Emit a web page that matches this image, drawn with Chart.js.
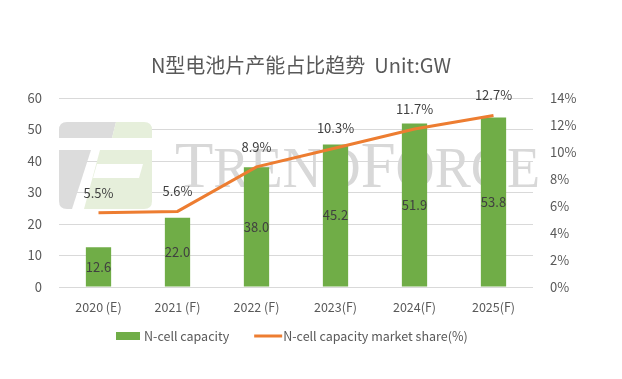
<!DOCTYPE html>
<html>
<head>
<meta charset="utf-8">
<script src="https://cdn.jsdelivr.net/npm/chart.js@4/dist/chart.umd.min.js"></script>
<style>
  html, body { margin: 0; padding: 0; background: #ffffff; }
  #wrap { width: 622px; height: 379px; }
</style>
</head>
<body>
<div id="wrap"><canvas id="c" width="622" height="379"></canvas></div>
<script>
const categories = ["2020 (E)", "2021 (F)", "2022 (F)", "2023(F)", "2024(F)", "2025(F)"];
const capacityGW = [12.6, 22.0, 38.0, 45.2, 51.9, 53.8];
const marketSharePct = [5.5, 5.6, 8.9, 10.3, 11.7, 12.7];
const barLabel = "N-cell capacity";
const lineLabel = "N-cell capacity market share(%)";
const titleText = "N型电池片产能占比趋势  Unit:GW";

const FONT = "'Noto Sans CJK SC', 'Noto Sans', sans-serif";
const TXT = "#595959";
const BAR_COLOR = "#70AD47";
const LINE_COLOR = "#ED7D31";

// Faint TrendForce watermark behind the plot
const watermark = {
  id: "watermark",
  beforeDatasetsDraw(chart) {
    const ctx = chart.ctx;
    const a = chart.chartArea;
    ctx.save();
    const gx = a.left, gy = a.top + 24;
    const gray = "#dcdcdc", green = "#e6efdb";
    ctx.fillStyle = gray;
    ctx.beginPath();
    ctx.moveTo(gx + 8, gy); ctx.lineTo(gx + 57, gy); ctx.lineTo(gx + 53, gy + 16); ctx.lineTo(gx, gy + 16); ctx.lineTo(gx, gy + 8);
    ctx.quadraticCurveTo(gx, gy, gx + 8, gy); ctx.fill();
    ctx.beginPath();
    ctx.moveTo(gx, gy + 28); ctx.lineTo(gx + 32, gy + 28); ctx.lineTo(gx + 13, gy + 87); ctx.lineTo(gx + 8, gy + 87);
    ctx.quadraticCurveTo(gx, gy + 87, gx, gy + 79); ctx.fill();
    ctx.fillStyle = green;
    ctx.beginPath();
    ctx.moveTo(gx + 57, gy); ctx.lineTo(gx + 85, gy); ctx.quadraticCurveTo(gx + 93, gy, gx + 93, gy + 8);
    ctx.lineTo(gx + 93, gy + 16); ctx.lineTo(gx + 53, gy + 16); ctx.fill();
    ctx.beginPath();
    ctx.moveTo(gx + 41, gy + 28); ctx.lineTo(gx + 93, gy + 28); ctx.lineTo(gx + 93, gy + 79);
    ctx.quadraticCurveTo(gx + 93, gy + 87, gx + 85, gy + 87); ctx.lineTo(gx + 25, gy + 87); ctx.fill();
    ctx.fillStyle = "#ffffff";
    ctx.beginPath();
    ctx.moveTo(gx + 38, gy + 42); ctx.lineTo(gx + 84, gy + 42); ctx.lineTo(gx + 80, gy + 56); ctx.lineTo(gx + 34, gy + 56); ctx.fill();
    // wordmark, squeezed horizontally to the reference width
    ctx.fillStyle = "#d8d8d8";
    ctx.textBaseline = "alphabetic";
    ctx.textAlign = "left";
    const parts = [["T", 66], ["REND", 57], ["F", 66], ["ORCE", 57]];
    let total = 0;
    for (const [s, sz] of parts) {
      ctx.font = sz + "px 'Liberation Serif', 'DejaVu Serif', serif";
      total += ctx.measureText(s).width;
    }
    const startX = gx + 116, targetW = 365;
    const k = targetW / total;
    ctx.translate(startX, gy + 65);
    ctx.scale(k, 1);
    let x = 0;
    for (const [s, sz] of parts) {
      ctx.font = sz + "px 'Liberation Serif', 'DejaVu Serif', serif";
      ctx.fillText(s, x, 0);
      x += ctx.measureText(s).width;
    }
    ctx.restore();
  }
};

// Title, value labels and legend
const textLayer = {
  id: "textLayer",
  afterDatasetsDraw(chart) {
    const ctx = chart.ctx;
    ctx.save();
    ctx.font = "13px " + FONT;
    ctx.fillStyle = "#404040";
    ctx.textAlign = "center";
    ctx.textBaseline = "middle";
    const barMeta = chart.getDatasetMeta(0);
    barMeta.data.forEach((el, i) => {
      ctx.fillText(capacityGW[i].toFixed(1), el.x, (el.y + el.base) / 2);
    });
    const lineMeta = chart.getDatasetMeta(1);
    lineMeta.data.forEach((el, i) => {
      ctx.fillText(marketSharePct[i].toFixed(1) + "%", el.x, el.y - 20);
    });
    // title
    ctx.font = "20px " + FONT;
    ctx.fillStyle = TXT;
    ctx.fillText(titleText, 301, 65);
    // legend
    const ly = 336;
    ctx.font = "12.5px " + FONT;
    ctx.textAlign = "left";
    ctx.fillStyle = BAR_COLOR;
    ctx.fillRect(116, ly - 4, 24, 8);
    ctx.fillStyle = TXT;
    ctx.fillText(barLabel, 144, ly);
    const x2 = 144 + ctx.measureText(barLabel).width + 25;
    ctx.strokeStyle = LINE_COLOR;
    ctx.lineWidth = 3;
    ctx.beginPath();
    ctx.moveTo(x2, ly); ctx.lineTo(x2 + 28, ly); ctx.stroke();
    ctx.fillText(lineLabel, x2 + 29, ly);
    ctx.restore();
  }
};

new Chart(document.getElementById("c"), {
  data: {
    labels: categories,
    datasets: [
      {
        type: "bar",
        label: barLabel,
        data: capacityGW,
        backgroundColor: BAR_COLOR,
        borderWidth: 0,
        yAxisID: "y",
        order: 2,
        categoryPercentage: 1.0,
        barPercentage: 0.32
      },
      {
        type: "line",
        label: lineLabel,
        data: marketSharePct,
        borderColor: LINE_COLOR,
        backgroundColor: LINE_COLOR,
        borderWidth: 3,
        pointRadius: 0,
        tension: 0,
        yAxisID: "y1",
        order: 1
      }
    ]
  },
  options: {
    responsive: false,
    animation: false,
    devicePixelRatio: 1,
    layout: { padding: { left: 0, right: 0, top: 98, bottom: 60 } },
    plugins: {
      title: { display: false },
      legend: { display: false },
      tooltip: { enabled: false }
    },
    scales: {
      x: {
        afterFit(s) { s.height = 32; },
        grid: { display: false, drawTicks: false },
        border: { display: false },
        ticks: { color: TXT, font: { family: FONT, size: 12.5 }, padding: 13, maxRotation: 0 }
      },
      y: {
        position: "left",
        min: 0, max: 60,
        afterFit(s) { s.width = 59; },
        grid: { color: "#d9d9d9", drawTicks: false, lineWidth: 1 },
        border: { display: false },
        ticks: { stepSize: 10, color: TXT, font: { family: FONT, size: 13 }, padding: 17 }
      },
      y1: {
        position: "right",
        min: 0, max: 14,
        afterFit(s) { s.width = 89; },
        grid: { display: false, drawTicks: false },
        border: { display: false },
        ticks: { stepSize: 2, color: TXT, font: { family: FONT, size: 13 }, padding: 17, callback: v => v + "%" }
      }
    }
  },
  plugins: [watermark, textLayer]
});
</script>
</body>
</html>
